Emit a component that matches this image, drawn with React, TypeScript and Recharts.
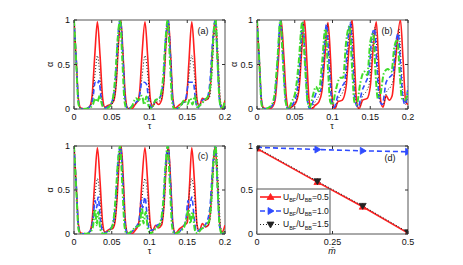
import { LineChart, Line, XAxis, YAxis, ReferenceArea } from "recharts"

type Pt = [number, number]

const tauTicks = [0, 0.05, 0.1, 0.15, 0.2]
const alphaTicks = [0, 0.5, 1]
const mTicks = [0, 0.25, 0.5]

// panel (a): [tau, alpha]
const aRed: Pt[] = [[0,1],[0.003,0.55],[0.006,0.1],[0.009,0.01],[0.016,0],[0.021,0.03],[0.024,0.15],[0.0275,0.6],[0.031,0.98],[0.0345,0.6],[0.038,0.12],[0.041,0.02],[0.045,0.04],[0.05,0.06],[0.053,0.1],[0.056,0.3],[0.059,0.75],[0.062,1],[0.065,0.6],[0.068,0.15],[0.071,0.01],[0.076,0],[0.081,0.05],[0.085,0.1],[0.087,0.2],[0.09,0.6],[0.094,0.98],[0.0975,0.6],[0.101,0.12],[0.104,0.03],[0.108,0.08],[0.112,0.05],[0.116,0.1],[0.119,0.3],[0.122,0.75],[0.125,1],[0.128,0.6],[0.131,0.12],[0.134,0.01],[0.14,0.05],[0.145,0.08],[0.149,0.12],[0.152,0.5],[0.156,0.98],[0.1595,0.6],[0.163,0.1],[0.166,0.03],[0.17,0.12],[0.174,0.1],[0.178,0.12],[0.181,0.3],[0.184,0.75],[0.187,1],[0.19,0.6],[0.193,0.12],[0.196,0.01],[0.198,0.03],[0.2,0.1]]
const aDot: Pt[] = [[0,1],[0.003,0.5],[0.006,0.08],[0.009,0],[0.02,0.01],[0.024,0.1],[0.028,0.4],[0.031,0.6],[0.034,0.4],[0.037,0.1],[0.041,0.02],[0.047,0.03],[0.052,0.08],[0.056,0.3],[0.059,0.75],[0.062,1],[0.065,0.6],[0.068,0.12],[0.072,0],[0.08,0.05],[0.086,0.1],[0.09,0.35],[0.094,0.6],[0.098,0.35],[0.101,0.08],[0.105,0.05],[0.11,0.08],[0.115,0.1],[0.119,0.3],[0.122,0.75],[0.125,1],[0.128,0.6],[0.131,0.1],[0.135,0],[0.142,0.04],[0.148,0.1],[0.152,0.35],[0.156,0.6],[0.16,0.35],[0.164,0.06],[0.168,0.06],[0.174,0.1],[0.179,0.12],[0.182,0.3],[0.185,0.75],[0.188,1],[0.191,0.6],[0.194,0.1],[0.197,0],[0.2,0.03]]
const aBlue: Pt[] = [[0,1],[0.003,0.55],[0.006,0.08],[0.009,0],[0.02,0.02],[0.025,0.12],[0.028,0.3],[0.031,0.28],[0.033,0.32],[0.036,0.12],[0.04,0.01],[0.046,0.03],[0.051,0.1],[0.055,0.35],[0.058,0.8],[0.0615,1],[0.065,0.55],[0.068,0.08],[0.071,0],[0.08,0.06],[0.086,0.12],[0.09,0.3],[0.093,0.3],[0.096,0.28],[0.099,0.1],[0.103,0.02],[0.108,0.1],[0.113,0.12],[0.118,0.3],[0.121,0.75],[0.1245,1],[0.128,0.55],[0.131,0.08],[0.134,0],[0.142,0.05],[0.148,0.12],[0.152,0.3],[0.155,0.3],[0.158,0.3],[0.161,0.1],[0.164,0.01],[0.17,0.1],[0.176,0.12],[0.18,0.3],[0.1835,0.75],[0.187,1],[0.19,0.55],[0.193,0.08],[0.196,0],[0.2,0.02]]
const aGreen: Pt[] = [[0,1],[0.003,0.5],[0.006,0.05],[0.009,0],[0.02,0.01],[0.025,0.05],[0.028,0.12],[0.031,0.08],[0.034,0.15],[0.037,0.05],[0.04,0],[0.046,0.02],[0.051,0.1],[0.055,0.4],[0.058,0.8],[0.061,1],[0.064,0.55],[0.067,0.08],[0.07,0],[0.076,0.02],[0.082,0.12],[0.086,0.1],[0.09,0.15],[0.093,0.05],[0.096,0.14],[0.099,0.03],[0.103,0.01],[0.108,0.1],[0.113,0.12],[0.118,0.35],[0.121,0.75],[0.124,1],[0.127,0.55],[0.13,0.08],[0.133,0],[0.14,0.02],[0.146,0.1],[0.15,0.05],[0.154,0.12],[0.157,0.05],[0.16,0.15],[0.163,0.02],[0.168,0.05],[0.173,0.1],[0.178,0.15],[0.182,0.4],[0.1845,0.8],[0.1875,1],[0.19,0.55],[0.193,0.08],[0.196,0],[0.2,0.1]]

// panel (b)
const bRed: Pt[] = [[0,1],[0.003,0.55],[0.006,0.1],[0.009,0.01],[0.016,0],[0.021,0.03],[0.024,0.1],[0.028,0.5],[0.032,1],[0.0355,0.6],[0.039,0.12],[0.042,0.01],[0.047,0.03],[0.052,0.08],[0.056,0.25],[0.06,0.75],[0.063,1],[0.066,0.55],[0.069,0.1],[0.072,0],[0.077,0.04],[0.082,0.08],[0.086,0.2],[0.09,0.6],[0.094,0.97],[0.0975,0.55],[0.1,0.08],[0.103,0],[0.107,0.08],[0.113,0.1],[0.118,0.25],[0.122,0.7],[0.126,1],[0.129,0.55],[0.132,0.08],[0.135,0],[0.14,0.1],[0.146,0.12],[0.15,0.25],[0.154,0.7],[0.158,0.98],[0.161,0.55],[0.164,0.08],[0.167,0.02],[0.171,0.15],[0.175,0.1],[0.179,0.15],[0.183,0.5],[0.19,1],[0.1935,0.55],[0.197,0.08],[0.2,0.05]]
const bDot: Pt[] = [[0,1],[0.003,0.55],[0.006,0.08],[0.009,0],[0.018,0.02],[0.023,0.1],[0.027,0.5],[0.0315,1],[0.035,0.55],[0.0385,0.08],[0.042,0],[0.048,0.04],[0.053,0.12],[0.057,0.4],[0.061,0.98],[0.0645,0.5],[0.068,0.08],[0.071,0],[0.077,0.08],[0.082,0.15],[0.086,0.25],[0.089,0.6],[0.093,0.96],[0.0965,0.5],[0.1,0.08],[0.103,0.01],[0.108,0.12],[0.114,0.2],[0.118,0.35],[0.121,0.75],[0.1245,0.98],[0.128,0.5],[0.131,0.08],[0.135,0.01],[0.14,0.15],[0.145,0.2],[0.149,0.3],[0.153,0.75],[0.1565,0.92],[0.16,0.45],[0.163,0.08],[0.167,0.05],[0.172,0.2],[0.177,0.25],[0.181,0.35],[0.185,0.75],[0.188,0.9],[0.191,0.5],[0.194,0.12],[0.197,0.05],[0.2,0.18]]
const bBlue: Pt[] = [[0,1],[0.003,0.55],[0.006,0.08],[0.009,0],[0.018,0.02],[0.023,0.1],[0.027,0.5],[0.031,1],[0.0345,0.55],[0.038,0.08],[0.041,0],[0.047,0.05],[0.052,0.15],[0.056,0.45],[0.0605,0.97],[0.064,0.5],[0.067,0.08],[0.07,0],[0.075,0.1],[0.08,0.2],[0.084,0.2],[0.088,0.55],[0.092,0.95],[0.0955,0.5],[0.099,0.08],[0.102,0.02],[0.107,0.15],[0.112,0.25],[0.116,0.3],[0.12,0.75],[0.1235,0.97],[0.127,0.5],[0.13,0.08],[0.134,0.02],[0.139,0.2],[0.144,0.3],[0.148,0.4],[0.152,0.8],[0.1555,0.9],[0.159,0.45],[0.162,0.1],[0.166,0.05],[0.171,0.3],[0.175,0.35],[0.18,0.4],[0.184,0.75],[0.187,0.85],[0.19,0.5],[0.193,0.15],[0.196,0.05],[0.2,0.25]]
const bGreen: Pt[] = [[0,1],[0.003,0.55],[0.006,0.05],[0.009,0],[0.018,0.03],[0.023,0.15],[0.027,0.55],[0.031,1],[0.0345,0.5],[0.038,0.08],[0.041,0],[0.046,0.08],[0.051,0.2],[0.055,0.5],[0.06,0.98],[0.0635,0.5],[0.067,0.08],[0.07,0.02],[0.074,0.15],[0.078,0.25],[0.082,0.2],[0.086,0.5],[0.0905,0.9],[0.094,0.45],[0.097,0.08],[0.1,0.05],[0.104,0.2],[0.11,0.35],[0.114,0.35],[0.118,0.75],[0.1225,0.93],[0.126,0.45],[0.129,0.08],[0.132,0.05],[0.137,0.3],[0.142,0.42],[0.146,0.38],[0.15,0.75],[0.154,0.85],[0.157,0.4],[0.16,0.12],[0.163,0.15],[0.168,0.4],[0.173,0.45],[0.178,0.42],[0.182,0.7],[0.186,0.78],[0.189,0.4],[0.192,0.12],[0.196,0.1],[0.2,0.2]]

// panel (c)
const cRed: Pt[] = [[0,1],[0.003,0.55],[0.006,0.1],[0.009,0.01],[0.016,0],[0.021,0.03],[0.024,0.15],[0.0275,0.6],[0.031,0.98],[0.0345,0.6],[0.038,0.12],[0.041,0.02],[0.046,0.05],[0.051,0.06],[0.054,0.12],[0.057,0.4],[0.06,0.85],[0.0625,1],[0.0655,0.6],[0.068,0.15],[0.071,0.01],[0.076,0],[0.081,0.04],[0.085,0.1],[0.087,0.2],[0.09,0.6],[0.094,0.98],[0.0975,0.6],[0.101,0.12],[0.104,0.03],[0.108,0.1],[0.112,0.07],[0.116,0.1],[0.119,0.3],[0.122,0.75],[0.125,1],[0.128,0.6],[0.131,0.12],[0.134,0.01],[0.14,0.06],[0.146,0.1],[0.15,0.13],[0.153,0.55],[0.156,0.98],[0.1595,0.6],[0.163,0.1],[0.166,0.03],[0.17,0.12],[0.174,0.08],[0.178,0.1],[0.181,0.3],[0.184,0.75],[0.187,1],[0.19,0.6],[0.193,0.12],[0.196,0.02],[0.2,0.1]]
const cDot: Pt[] = [[0,1],[0.003,0.5],[0.006,0.08],[0.009,0],[0.02,0.01],[0.024,0.12],[0.028,0.45],[0.031,0.63],[0.034,0.45],[0.037,0.1],[0.041,0.02],[0.047,0.04],[0.052,0.08],[0.056,0.3],[0.059,0.75],[0.062,1],[0.065,0.6],[0.068,0.12],[0.072,0],[0.08,0.05],[0.086,0.12],[0.09,0.4],[0.094,0.63],[0.098,0.4],[0.101,0.08],[0.105,0.05],[0.11,0.08],[0.115,0.1],[0.119,0.3],[0.122,0.75],[0.125,1],[0.128,0.6],[0.131,0.1],[0.135,0],[0.142,0.05],[0.148,0.12],[0.152,0.4],[0.156,0.63],[0.16,0.4],[0.164,0.06],[0.168,0.06],[0.174,0.08],[0.179,0.12],[0.182,0.3],[0.185,0.75],[0.188,1],[0.191,0.6],[0.194,0.1],[0.197,0],[0.2,0.05]]
const cBlue: Pt[] = [[0,1],[0.003,0.55],[0.006,0.08],[0.009,0],[0.02,0.02],[0.025,0.15],[0.028,0.38],[0.03,0.3],[0.032,0.42],[0.035,0.15],[0.039,0.01],[0.046,0.04],[0.051,0.1],[0.055,0.35],[0.058,0.8],[0.0615,1],[0.065,0.55],[0.068,0.08],[0.071,0],[0.08,0.06],[0.086,0.15],[0.089,0.38],[0.091,0.3],[0.094,0.42],[0.097,0.2],[0.1,0.04],[0.105,0.05],[0.11,0.1],[0.114,0.12],[0.118,0.3],[0.121,0.75],[0.1245,1],[0.128,0.55],[0.131,0.08],[0.134,0],[0.142,0.05],[0.148,0.15],[0.151,0.38],[0.153,0.3],[0.156,0.42],[0.159,0.2],[0.162,0.03],[0.168,0.06],[0.175,0.12],[0.18,0.3],[0.1835,0.75],[0.187,1],[0.19,0.55],[0.193,0.08],[0.196,0],[0.2,0.03]]
const cGreen: Pt[] = [[0,1],[0.003,0.5],[0.006,0.05],[0.009,0],[0.02,0.01],[0.025,0.08],[0.028,0.28],[0.03,0.1],[0.032,0.25],[0.035,0.05],[0.039,0],[0.046,0.03],[0.051,0.1],[0.055,0.4],[0.058,0.8],[0.061,1],[0.064,0.55],[0.067,0.08],[0.07,0],[0.076,0.03],[0.082,0.08],[0.087,0.1],[0.09,0.3],[0.092,0.12],[0.095,0.25],[0.098,0.05],[0.102,0.01],[0.108,0.06],[0.113,0.1],[0.118,0.35],[0.121,0.75],[0.124,1],[0.127,0.55],[0.13,0.08],[0.133,0],[0.14,0.03],[0.146,0.08],[0.152,0.28],[0.154,0.12],[0.157,0.25],[0.16,0.05],[0.163,0.01],[0.168,0.05],[0.174,0.1],[0.179,0.15],[0.182,0.4],[0.1845,0.8],[0.1875,1],[0.19,0.55],[0.193,0.08],[0.196,0],[0.2,0.05]]

// panel (d)
const mBar = [0, 0.2, 0.35, 0.5]
const dRed = [0.97, 0.59, 0.31, 0.01]
const dBlue = [0.985, 0.96, 0.945, 0.935]
const dBlack = [0.98, 0.6, 0.32, 0.02]
const ratioLabels = ["0.5", "1.0", "1.5"]

const RED = "#ff1f1f"
const BLUE = "#2f4bff"
const GREEN = "#3fdc2a"
const BLACK = "#222"
const FONT = "'Liberation Sans', Arial, sans-serif"

const toPts = (arr: Pt[]) => arr.map(([t, v]) => ({ t, v }))

const lineStyles = [
  { stroke: RED, strokeWidth: 1.6 },
  { stroke: BLACK, strokeWidth: 1, strokeDasharray: "1 2" },
  { stroke: BLUE, strokeWidth: 1.6, strokeDasharray: "5 3" },
  { stroke: GREEN, strokeWidth: 2, strokeDasharray: "6 2 1.5 2" },
]

const YW = 30
const MT = 6
const MR = 10
const XH = 22

function XTick({ x, y, payload, h }: any) {
  const yb = y - 5
  return (
    <g>
      <line x1={x} x2={x} y1={yb} y2={yb - 3} stroke="#333" />
      <line x1={x} x2={x} y1={yb - h} y2={yb - h + 3} stroke="#333" />
      <text x={x} y={y} dy="0.71em" textAnchor="middle" fontSize={9} fontFamily={FONT} fill="#111">
        {payload.value}
      </text>
    </g>
  )
}

function YTick({ x, y, payload, w }: any) {
  const xa = x + 4
  return (
    <g>
      <line x1={xa} x2={xa + 3} y1={y} y2={y} stroke="#333" />
      <line x1={xa + w} x2={xa + w - 3} y1={y} y2={y} stroke="#333" />
      <text x={x} y={y} dy="0.35em" textAnchor="end" fontSize={9} fontFamily={FONT} fill="#111">
        {payload.value}
      </text>
    </g>
  )
}

function Panel({ box, xMax, xTicks, children }: any) {
  const [bx, by, w, h] = box
  return (
    <div style={{ position: "absolute", left: bx - YW, top: by - MT }}>
      <LineChart width={YW + w + MR} height={MT + h + XH} margin={{ top: MT, right: MR, left: 0, bottom: 0 }}>
        <XAxis
          dataKey="t"
          type="number"
          domain={[0, xMax]}
          ticks={xTicks}
          interval={0}
          height={XH}
          axisLine={false}
          tickLine={false}
          tickSize={0}
          tickMargin={5}
          tick={<XTick h={h} />}
          allowDataOverflow
        />
        <YAxis
          type="number"
          domain={[0, 1]}
          ticks={alphaTicks}
          interval={0}
          width={YW}
          axisLine={false}
          tickLine={false}
          tickSize={0}
          tickMargin={4}
          tick={<YTick w={w} />}
          allowDataOverflow
        />
        {children}
        <ReferenceArea x1={0} x2={xMax} y1={0} y2={1} fill="none" stroke="#555" strokeWidth={1} ifOverflow="visible" />
      </LineChart>
    </div>
  )
}

function tauLines(sets: Pt[][]) {
  return sets.map((s, i) => (
    <Line
      key={i}
      data={toPts(s)}
      dataKey="v"
      type="monotone"
      dot={false}
      isAnimationActive={false}
      {...lineStyles[i]}
    />
  ))
}

const marker = (kind: string, color: string) => (p: any) => {
  const { cx, cy, index } = p
  const s = 3.5
  let d = ""
  if (kind === "up") d = `M${cx},${cy - s}L${cx + s},${cy + s * 0.7}L${cx - s},${cy + s * 0.7}Z`
  else if (kind === "down") d = `M${cx},${cy + s}L${cx + s},${cy - s * 0.7}L${cx - s},${cy - s * 0.7}Z`
  else d = `M${cx + s},${cy}L${cx - s * 0.7},${cy - s}L${cx - s * 0.7},${cy + s}Z`
  return <path key={index} d={d} fill={color} stroke={color} strokeWidth={0.8} />
}

function LegendSample({ y, idx }: { y: number; idx: number }) {
  const st = [lineStyles[0], lineStyles[2], lineStyles[1]][idx]
  const kind = ["up", "right", "down"][idx]
  const col = [RED, BLUE, BLACK][idx]
  const cx = 270.5
  const s = 3.5
  const d =
    kind === "up"
      ? `M${cx},${y - s}L${cx + s},${y + s * 0.7}L${cx - s},${y + s * 0.7}Z`
      : kind === "down"
      ? `M${cx},${y + s}L${cx + s},${y - s * 0.7}L${cx - s},${y - s * 0.7}Z`
      : `M${cx + s},${y}L${cx - s * 0.7},${y - s}L${cx - s * 0.7},${y + s}Z`
  return (
    <g>
      <line x1={260} x2={281} y1={y} y2={y} {...st} />
      <path d={d} fill={col} stroke={col} strokeWidth={0.8} />
      <text x={283} y={y} dy="0.35em" fontSize={8.5} fontFamily={FONT} fill="#111">
        <tspan>U</tspan>
        <tspan dy={2.5} fontSize={5.5}>BF</tspan>
        <tspan dy={-2.5}>/U</tspan>
        <tspan dy={2.5} fontSize={5.5}>BB</tspan>
        <tspan dy={-2.5}>={ratioLabels[idx]}</tspan>
      </text>
    </g>
  )
}

export default function App() {
  const dData = mBar.map((m, i) => ({ t: m, red: dRed[i], blue: dBlue[i], black: dBlack[i] }))
  const txt = { fontSize: 9, fontFamily: FONT, fill: "#111" }
  return (
    <div style={{ position: "absolute", left: 0, top: 0, width: 463, height: 265, background: "#fff", fontFamily: FONT }}>
      <Panel box={[74, 20, 151, 89]} xMax={0.2} xTicks={tauTicks}>
        {tauLines([aRed, aDot, aBlue, aGreen])}
      </Panel>
      <Panel box={[257, 20, 151, 89]} xMax={0.2} xTicks={tauTicks}>
        {tauLines([bRed, bDot, bBlue, bGreen])}
      </Panel>
      <Panel box={[74, 146, 151, 88]} xMax={0.2} xTicks={tauTicks}>
        {tauLines([cRed, cDot, cBlue, cGreen])}
      </Panel>
      <Panel box={[257, 146, 151, 88]} xMax={0.5} xTicks={mTicks}>
        <Line data={dData} dataKey="red" type="linear" isAnimationActive={false} {...lineStyles[0]} dot={marker("up", RED)} />
        <Line data={dData} dataKey="blue" type="linear" isAnimationActive={false} {...lineStyles[2]} dot={marker("right", BLUE)} />
        <Line data={dData} dataKey="black" type="linear" isAnimationActive={false} {...lineStyles[1]} dot={marker("down", BLACK)} />
      </Panel>
      <svg width={463} height={265} style={{ position: "absolute", left: 0, top: 0, pointerEvents: "none" }}>
        <text x={50} y={64.5} {...txt} textAnchor="middle" dy="0.35em" transform="rotate(-90 50 64.5)">α</text>
        <text x={234} y={64.5} {...txt} textAnchor="middle" dy="0.35em" transform="rotate(-90 234 64.5)">α</text>
        <text x={50} y={190} {...txt} textAnchor="middle" dy="0.35em" transform="rotate(-90 50 190)">α</text>
        <text x={149.5} y={126} {...txt} textAnchor="middle" dy="0.35em">τ</text>
        <text x={332} y={126} {...txt} textAnchor="middle" dy="0.35em">τ</text>
        <text x={149.5} y={251} {...txt} textAnchor="middle" dy="0.35em">τ</text>
        <text x={332} y={251} {...txt} textAnchor="middle" dy="0.35em" fontStyle="italic">m̄</text>
        <text x={203} y={31} {...txt} textAnchor="middle" dy="0.35em">(a)</text>
        <text x={387} y={31} {...txt} textAnchor="middle" dy="0.35em">(b)</text>
        <text x={203} y={156} {...txt} textAnchor="middle" dy="0.35em">(c)</text>
        <text x={390} y={158} {...txt} textAnchor="middle" dy="0.35em">(d)</text>
        <rect x={257} y={189} width={73} height={45} fill="#fff" stroke="#555" strokeWidth={1} />
        <LegendSample y={197} idx={0} />
        <LegendSample y={211} idx={1} />
        <LegendSample y={224.5} idx={2} />
      </svg>
    </div>
  )
}
